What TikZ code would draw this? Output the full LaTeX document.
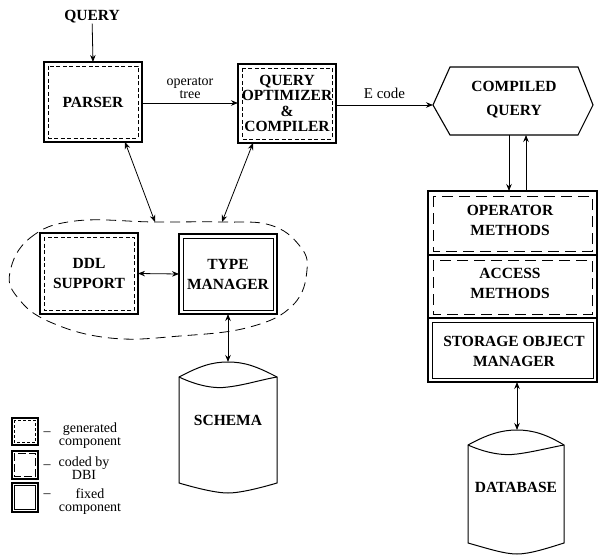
\documentclass[tikz,border=0pt]{standalone}
\usepackage{fontspec}
\setmainfont{Liberation Serif}
\usetikzlibrary{arrows.meta}
\begin{document}
\begin{tikzpicture}[x=1pt,y=-1pt,
  box/.style={draw,line width=1.1pt,rectangle,inner sep=0pt,outer sep=0pt,align=center,
    font=\fontsize{15.5}{20}\selectfont\bfseries},
  lbl/.style={align=center,inner sep=0pt,font=\fontsize{14}{13}\selectfont},
  btxt/.style={align=center,inner sep=0pt,font=\fontsize{15.5}{20}\selectfont\bfseries},
  gen/.style={line width=0.9pt,dash pattern=on 4pt off 2.5pt},
  dbi/.style={line width=0.8pt,dash pattern=on 11pt off 6pt},
  fix/.style={line width=0.9pt},
  arr/.style={line width=0.8pt,-{Stealth[length=7pt,width=5.5pt]}},
  darr/.style={line width=0.8pt,{Stealth[length=7pt,width=5.5pt]}-{Stealth[length=7pt,width=5.5pt]}}
]
\useasboundingbox (0,0) rectangle (599,556);

% top row
\node[btxt] (query) at (92,17) {QUERY};
\node[box,minimum width=98pt,minimum height=80pt] (parser) at (93,102) {PARSER};
\draw[gen] ([shift={(4pt,-4pt)}]parser.north west) rectangle ([shift={(-4pt,4pt)}]parser.south east);
\node[box,minimum width=98pt,minimum height=79pt,font=\fontsize{15.5}{15.5}\selectfont\bfseries] (qo) at (287,103.5) {QUERY\\OPTIMIZER\\\&\\COMPILER};
\draw[gen] ([shift={(4pt,-4pt)}]qo.north west) rectangle ([shift={(-4pt,4pt)}]qo.south east);

% compiled query hexagon
\coordinate (hL) at (433,105);
\coordinate (hTL) at (450,67);
\coordinate (hTR) at (578,67);
\coordinate (hR) at (593,105);
\coordinate (hBR) at (578,135);
\coordinate (hBL) at (450,135);
\draw[line width=1.1pt] (hL) -- (hTL) -- (hTR) -- (hR) -- (hBR) -- (hBL) -- cycle;
\node[btxt,font=\fontsize{15.5}{24}\selectfont\bfseries] (cq) at (514,100) {COMPILED\\QUERY};
\coordinate (hb1) at (509,135);
\coordinate (hb2) at (526,135);

% right stack
\node[box,minimum width=169pt,minimum height=64pt] (opm) at (512.5,223) {};
\draw[dbi] ([shift={(5pt,-5pt)}]opm.north west) rectangle ([shift={(-5pt,4pt)}]opm.south east);
\node[btxt] at (510,220) {OPERATOR\\METHODS};
\node[box,minimum width=169pt,minimum height=63pt] (acm) at (512.5,286.5) {};
\draw[dbi] ([shift={(5pt,-5pt)}]acm.north west) rectangle ([shift={(-5pt,4pt)}]acm.south east);
\node[btxt] at (510,283) {ACCESS\\METHODS};
\node[box,minimum width=169pt,minimum height=64pt] (som) at (512.5,350) {};
\draw[fix] ([shift={(4pt,-4pt)}]som.north west) rectangle ([shift={(-4pt,4pt)}]som.south east);
\node[btxt] at (514,351) {STORAGE OBJECT\\MANAGER};
\coordinate (st1) at (509,191);
\coordinate (st2) at (526,191);
\coordinate (sb) at (517,382);

% middle left
\draw[line width=0.8pt,dash pattern=on 10pt off 6pt] plot[smooth cycle,tension=0.7] coordinates
  {(10,272) (30,238) (75,221) (155,222) (222,222) (270,225) (299,245) (307,270) (293,305) (250,327) (180,336) (110,338) (50,322) (18,298)};
\node[box,minimum width=98pt,minimum height=81pt] (ddl) at (89,273.5) {DDL\\SUPPORT};
\draw[gen] ([shift={(4pt,-4pt)}]ddl.north west) rectangle ([shift={(-4pt,4pt)}]ddl.south east);
\node[box,minimum width=98pt,minimum height=80pt] (tm) at (228,274) {TYPE\\MANAGER};
\draw[fix] ([shift={(4pt,-4pt)}]tm.north west) rectangle ([shift={(-4pt,4pt)}]tm.south east);
\coordinate (b1) at (155,222);
\coordinate (b2) at (222,222);

% schema cylinder
\draw[line width=1pt] (179,377) .. controls (200,366) and (212,362) .. (228,362)
  .. controls (244,362) and (256,366) .. (277,377)
  -- (277,483) .. controls (260,488) and (240,493) .. (228,493)
  .. controls (216,493) and (196,488) .. (179,483) -- cycle;
\draw[line width=1pt] (179,377) .. controls (198,386) and (215,389) .. (228,387)
  .. controls (245,385) and (260,380) .. (277,377);
\node[btxt] (schema) at (228,420) {SCHEMA};
\coordinate (scT) at (228,362);

% database cylinder
\draw[line width=1pt] (468,445) .. controls (488,434) and (502,430) .. (517,430)
  .. controls (532,430) and (546,434) .. (564,445)
  -- (564,543) .. controls (548,548) and (530,554) .. (517,554)
  .. controls (504,554) and (486,548) .. (468,543) -- cycle;
\draw[line width=1pt] (468,445) .. controls (486,453) and (503,456) .. (517,454)
  .. controls (533,452) and (548,448) .. (564,445);
\node[btxt] (db) at (516,487) {DATABASE};
\coordinate (dbT) at (517,430);

% connectors
\draw[arr] (query) -- (parser.north);
\draw[arr] (parser.east |- 0,103) -- (qo.west |- 0,103) node[midway,above=4pt,lbl] {operator\\tree};
\draw[arr] (qo.east |- 0,105) -- (hL) node[midway,above=6pt,lbl,font=\fontsize{15}{13}\selectfont] {E code};
\draw[arr] (hb1) -- (st1);
\draw[arr] (st2) -- (hb2);
\draw[darr] (parser.south -| 125,0) -- (b1);
\draw[darr] (qo.south -| 253,0) -- (b2);
\draw[darr] (ddl.east) -- (tm.west);
\draw[darr] (tm.south) -- (scT);
\draw[darr] (sb) -- (dbT);

% legend
\node[draw,line width=1.1pt,minimum width=26pt,minimum height=27pt,inner sep=0pt] (lg1) at (25,431.5) {};
\draw[gen,line width=0.7pt,dash pattern=on 3pt off 2pt] ([shift={(3pt,-3pt)}]lg1.north west) rectangle ([shift={(-3pt,3pt)}]lg1.south east);
\node[draw,line width=1.1pt,minimum width=26pt,minimum height=28pt,inner sep=0pt] (lg2) at (25,465) {};
\draw[dbi,line width=0.7pt,dash pattern=on 8pt off 3pt] ([shift={(3pt,-3pt)}]lg2.north west) rectangle ([shift={(-3pt,3pt)}]lg2.south east);
\node[draw,line width=1.1pt,minimum width=26pt,minimum height=29pt,inner sep=0pt] (lg3) at (25,497.5) {};
\draw[fix,line width=0.8pt] ([shift={(3pt,-3pt)}]lg3.north west) rectangle ([shift={(-3pt,3pt)}]lg3.south east);
\node[lbl] (d1) at (47,434) {–};
\node[lbl] (t1) at (90,436) {generated\\component};
\node[lbl] (d2) at (47,467) {–};
\node[lbl] (t2) at (84,468) {coded by\\DBI};
\node[lbl] (d3) at (47,496) {–};
\node[lbl] (t3) at (90,502) {fixed\\component};
\end{tikzpicture}
\end{document}
